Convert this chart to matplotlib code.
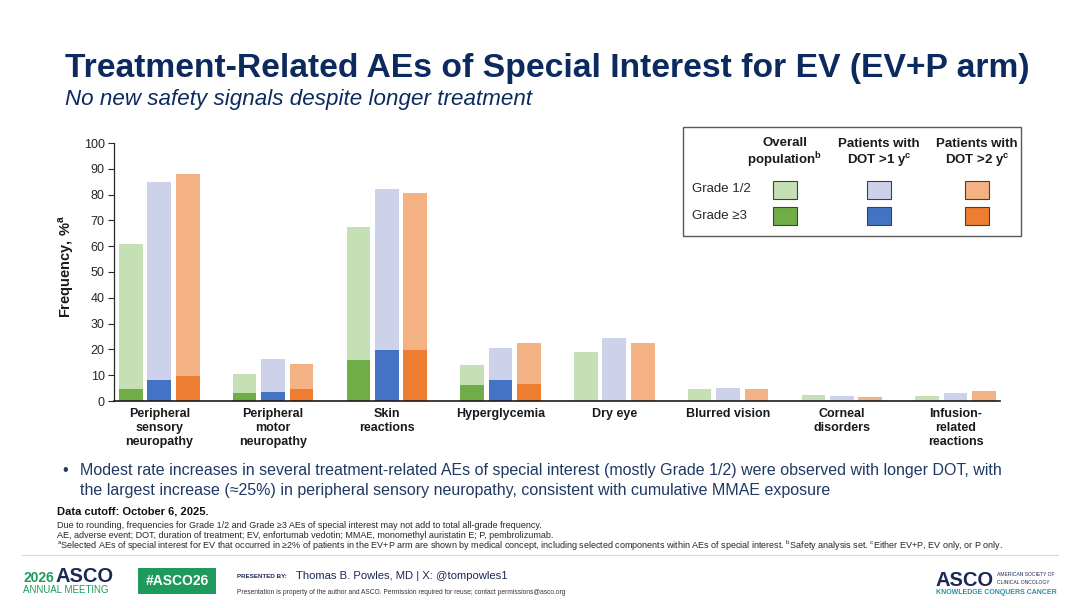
import numpy as np
import matplotlib
matplotlib.use("Agg")
import matplotlib.pyplot as plt
from matplotlib.patches import Rectangle

plt.rcParams['font.family'] = ['Liberation Sans', 'DejaVu Sans']
plt.rcParams['mathtext.fontset'] = 'custom'
plt.rcParams['mathtext.rm'] = 'Liberation Sans'
plt.rcParams['mathtext.bf'] = 'Liberation Sans:bold'

# data (frequency, %)
categories = ["Peripheral\nsensory\nneuropathy", "Peripheral\nmotor\nneuropathy",
              "Skin\nreactions", "Hyperglycemia", "Dry eye", "Blurred vision",
              "Corneal\ndisorders", "Infusion-\nrelated\nreactions"]
overall_any = [61.0, 10.5, 67.5, 14.0, 19.0, 4.6, 2.2, 1.9]
overall_g3 = [4.7, 3.0, 16.0, 6.2, 0, 0, 0, 0]
dot1_any = [85.0, 16.3, 82.0, 20.5, 24.4, 5.2, 1.9, 3.1]
dot1_g3 = [8.0, 3.6, 19.7, 8.0, 0, 0, 0, 0]
dot2_any = [88.0, 14.5, 80.6, 22.4, 22.4, 4.6, 1.7, 3.8]
dot2_g3 = [9.8, 4.7, 19.7, 6.6, 0, 0, 0, 0]

series_names = [r"Overall" + "\n" + r"population$^{\mathbf{b}}$",
                r"Patients with" + "\n" + r"DOT >1 y$^{\mathbf{c}}$",
                r"Patients with" + "\n" + r"DOT >2 y$^{\mathbf{c}}$"]
light_colors = ["#c5e0b4", "#cdd2ea", "#f4b183"]
dark_colors = ["#70ad47", "#4472c4", "#ed7d31"]

NAVY = "#0c2a5e"
W, H = 1080, 608


def fx(px):
    return px / W


def fy(py):
    return 1 - py / H


fig = plt.figure(figsize=(W / 100, H / 100), dpi=100)
fig.patch.set_facecolor("white")

# title block
fig.text(fx(65), fy(68), "Treatment-Related AEs of Special Interest for EV (EV+P arm)",
         fontsize=24.2, fontweight="bold", color=NAVY, va="center", ha="left")
fig.text(fx(65), fy(99), "No new safety signals despite longer treatment",
         fontsize=16.1, fontstyle="italic", color=NAVY, va="center", ha="left")

# chart
ax = fig.add_axes([fx(114.3), fy(401), fx(1000) - fx(114.3), fy(143) - fy(401)])
x = np.arange(len(categories))
offsets = [-0.25, 0.0, 0.25]
bar_w = 0.208
all_any = [overall_any, dot1_any, dot2_any]
all_g3 = [overall_g3, dot1_g3, dot2_g3]
for off, tot, g3, lc, dc in zip(offsets, all_any, all_g3, light_colors, dark_colors):
    tot = np.array(tot)
    g3 = np.array(g3)
    ax.bar(x + off, g3, bar_w, color=dc, linewidth=0)
    ax.bar(x + off, tot - g3, bar_w, bottom=g3, color=lc, linewidth=0)

ax.set_xlim(-0.395, 7.39)
ax.set_ylim(0, 100)
ax.set_yticks(np.arange(0, 101, 10))
ax.tick_params(axis="y", labelsize=9, length=4, width=0.8, colors="#262626", pad=3)
ax.set_xticks(x)
ax.set_xticklabels(categories, fontsize=9, fontweight="bold", linespacing=1.2)
ax.tick_params(axis="x", length=0, pad=5, colors="#1a1a1a")
for s in ["top", "right"]:
    ax.spines[s].set_visible(False)
ax.spines["left"].set_color("#262626")
ax.spines["left"].set_linewidth(0.9)
ax.spines["bottom"].set_color("#1a1a1a")
ax.spines["bottom"].set_linewidth(1.2)

fig.text(fx(66), fy(267), r"Frequency, %$^{\mathbf{a}}$", rotation=90,
         fontsize=10.5, fontweight="bold", ha="center", va="center", color="#1a1a1a")

# legend table (drawn on the figure)
fig.patches.append(Rectangle((fx(683), fy(236)), fx(1021) - fx(683), fy(127) - fy(236),
                             transform=fig.transFigure, facecolor="white",
                             edgecolor="#595959", linewidth=1.0, zorder=5))
col_x = [785, 879, 977]
for cx, name, lc, dc in zip(col_x, series_names, light_colors, dark_colors):
    fig.text(fx(cx), fy(153.5), name, fontsize=9.5, fontweight="bold", ha="center",
             va="center", linespacing=1.1, color="#1a1a1a", zorder=6)
    for cy, c in zip([190, 216], [lc, dc]):
        fig.patches.append(Rectangle((fx(cx - 12), fy(cy + 9)), fx(24), 18 / H,
                                     transform=fig.transFigure, facecolor=c,
                                     edgecolor="#404040", linewidth=0.8, zorder=6))
fig.text(fx(692), fy(189), "Grade 1/2", fontsize=9.5, va="center", ha="left",
         color="#262626", zorder=6)
fig.text(fx(692), fy(216), "Grade \u22653", fontsize=9.5, va="center", ha="left",
         color="#262626", zorder=6)

# bullet
BODY = "#1f3864"
fig.text(fx(62), fy(470), "\u2022", fontsize=11.5, color=BODY, va="center")
fig.text(fx(80), fy(470), "Modest rate increases in several treatment-related AEs of special "
         "interest (mostly Grade 1/2) were observed with longer DOT, with",
         fontsize=11.5, color=BODY, va="center")
fig.text(fx(80), fy(490), "the largest increase (\u224825%) in peripheral sensory neuropathy, "
         "consistent with cumulative MMAE exposure",
         fontsize=11.5, color=BODY, va="center")

# footnotes
fig.text(fx(57), fy(512), "Data cutoff: October 6, 2025.", fontsize=8,
         fontweight="bold", color="#111111", va="center")
notes = [
    "Due to rounding, frequencies for Grade 1/2 and Grade \u22653 AEs of special interest may not add to total all-grade frequency.",
    "AE, adverse event; DOT, duration of treatment; EV, enfortumab vedotin; MMAE, monomethyl auristatin E; P, pembrolizumab.",
    r"$^{\mathrm{a}}$Selected AEs of special interest for EV that occurred in " + "\u2265"
    + r"2% of patients in the EV+P arm are shown by medical "
    r"concept, including selected components within AEs of special interest. $^{\mathrm{b}}$Safety analysis set. "
    r"$^{\mathrm{c}}$Either EV+P, EV only, or P only.",
]
for yy, t in zip([525, 536, 546], notes):
    fig.text(fx(57), fy(yy), t, fontsize=6.5, color="#262626", va="center")

# footer
fig.add_artist(plt.Line2D([fx(22), fx(1058)], [fy(554.5), fy(554.5)],
                          color="#d9d9d9", linewidth=0.8))
GREEN = "#1e9a5c"
ASCO_NAVY = "#1c2856"
fig.text(fx(23), fy(578), "2026", fontsize=10, fontweight="bold", color=GREEN, va="center")
fig.text(fx(55), fy(577), "ASCO", fontsize=14.5, fontweight="bold", color=ASCO_NAVY, va="center")
fig.text(fx(23), fy(590), "ANNUAL MEETING", fontsize=7, color=GREEN, va="center")
fig.patches.append(Rectangle((fx(138), fy(594)), fx(78), 26 / H, transform=fig.transFigure,
                             facecolor=GREEN, edgecolor="none"))
fig.text(fx(177), fy(581), "#ASCO26", fontsize=10, fontweight="bold", color="white",
         ha="center", va="center")
fig.text(fx(237), fy(576), "PRESENTED BY:", fontsize=4.5, fontweight="bold",
         color=ASCO_NAVY, va="center")
fig.text(fx(296), fy(576), "Thomas B. Powles, MD | X: @tompowles1", fontsize=8.1,
         color=ASCO_NAVY, va="center")
fig.text(fx(237), fy(592), "Presentation is property of the author and ASCO. Permission "
         "required for reuse; contact permissions@asco.org", fontsize=4.8,
         color="#333333", va="center")
fig.text(fx(935), fy(580), "ASCO", fontsize=14.5, fontweight="bold", color=ASCO_NAVY, va="center")
fig.text(fx(997), fy(575), "AMERICAN SOCIETY OF", fontsize=3.6, color=ASCO_NAVY, va="center")
fig.text(fx(997), fy(582), "CLINICAL ONCOLOGY", fontsize=3.6, color=ASCO_NAVY, va="center")
fig.text(fx(936), fy(592), "KNOWLEDGE CONQUERS CANCER", fontsize=5, fontweight="bold",
         color="#2b8ea3", va="center")

fig.savefig("out.png", dpi=100, facecolor="white")
